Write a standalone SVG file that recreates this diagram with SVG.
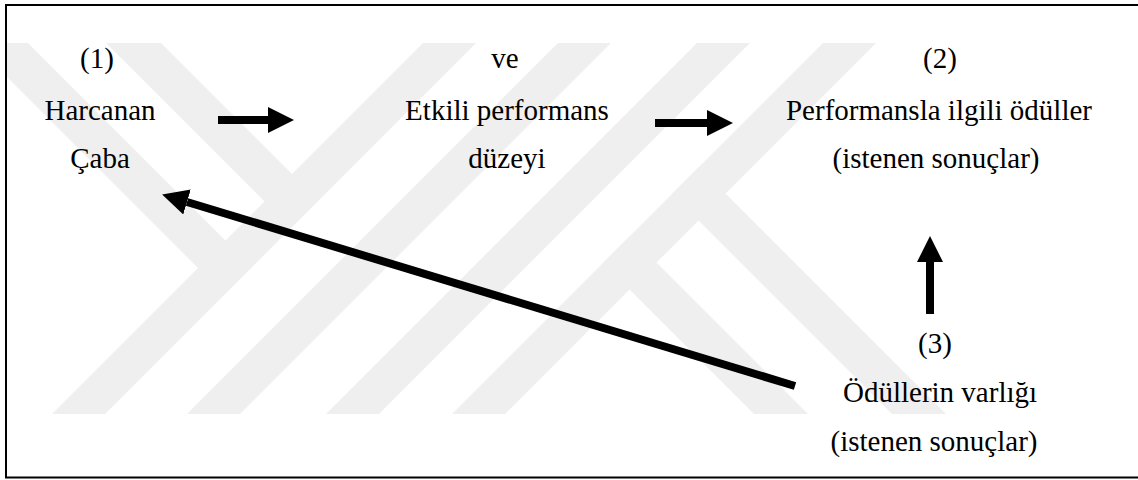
<svg xmlns="http://www.w3.org/2000/svg" width="1138" height="480" viewBox="0 0 1138 480">
  <style>
    .wm { fill: #efefef; }
    .lbl { font-size: 29px; fill: #000; text-anchor: middle; }
    .arr { stroke: #000; stroke-width: 8; fill: none; marker-end: url(#head); }
  </style>
  <defs>
    <marker id="head" viewBox="0 0 26 26" markerWidth="26" markerHeight="26" refX="0" refY="13" orient="auto" markerUnits="userSpaceOnUse">
      <path d="M0,0 L26,13 L0,26 Z" fill="#000"/>
    </marker>
    <clipPath id="wmclip">
      <rect x="7" y="43" width="1131" height="372"/>
    </clipPath>
  </defs>
  <rect width="1138" height="480" fill="#fff"/>
  <g id="watermark" clip-path="url(#wmclip)">
    <polygon class="wm" points="52,414 105,414 476,43 423,43"/>
    <polygon class="wm" points="187,414 240,414 611,43 558,43"/>
    <polygon class="wm" points="326,414 379,414 750,43 697,43"/>
    <polygon class="wm" points="452,414 505,414 876,43 823,43"/>
    <polygon class="wm" points="106,43 161,43 318.5,200.5 291,228"/>
    <polygon class="wm" points="-27,43 28,43 252,267 224.5,294.5"/>
    <polygon class="wm" points="630,236 808,414 754,414 603,263"/>
    <polygon class="wm" points="699,167 946,414 892,414 672,194"/>
  </g>
  <rect id="frame" x="6" y="5" width="1140" height="472.5" fill="none" stroke="#000" stroke-width="2"/>
  <g id="connectors">
    <line class="arr" x1="218" y1="120" x2="268" y2="120"/>
    <line class="arr" x1="655" y1="123" x2="707" y2="123"/>
    <line class="arr" x1="930" y1="314" x2="930" y2="262"/>
    <line class="arr" x1="795" y1="386" x2="187" y2="202"/>
  </g>
  <g font-family="'Liberation Serif', 'DejaVu Serif', serif">
    <g id="node1">
      <text class="lbl" x="97" y="68">(1)</text>
      <text class="lbl" x="100" y="120">Harcanan</text>
      <text class="lbl" x="100" y="168">Çaba</text>
    </g>
    <g id="node-mid">
      <text class="lbl" x="505" y="68">ve</text>
      <text class="lbl" x="507" y="120">Etkili performans</text>
      <text class="lbl" x="507" y="168">düzeyi</text>
    </g>
    <g id="node2">
      <text class="lbl" x="940" y="68">(2)</text>
      <text class="lbl" x="939" y="120">Performansla ilgili ödüller</text>
      <text class="lbl" x="936" y="168">(istenen sonuçlar)</text>
    </g>
    <g id="node3">
      <text class="lbl" x="935" y="353">(3)</text>
      <text class="lbl" x="940" y="402">Ödüllerin varlığı</text>
      <text class="lbl" x="934" y="451">(istenen sonuçlar)</text>
    </g>
  </g>
</svg>
